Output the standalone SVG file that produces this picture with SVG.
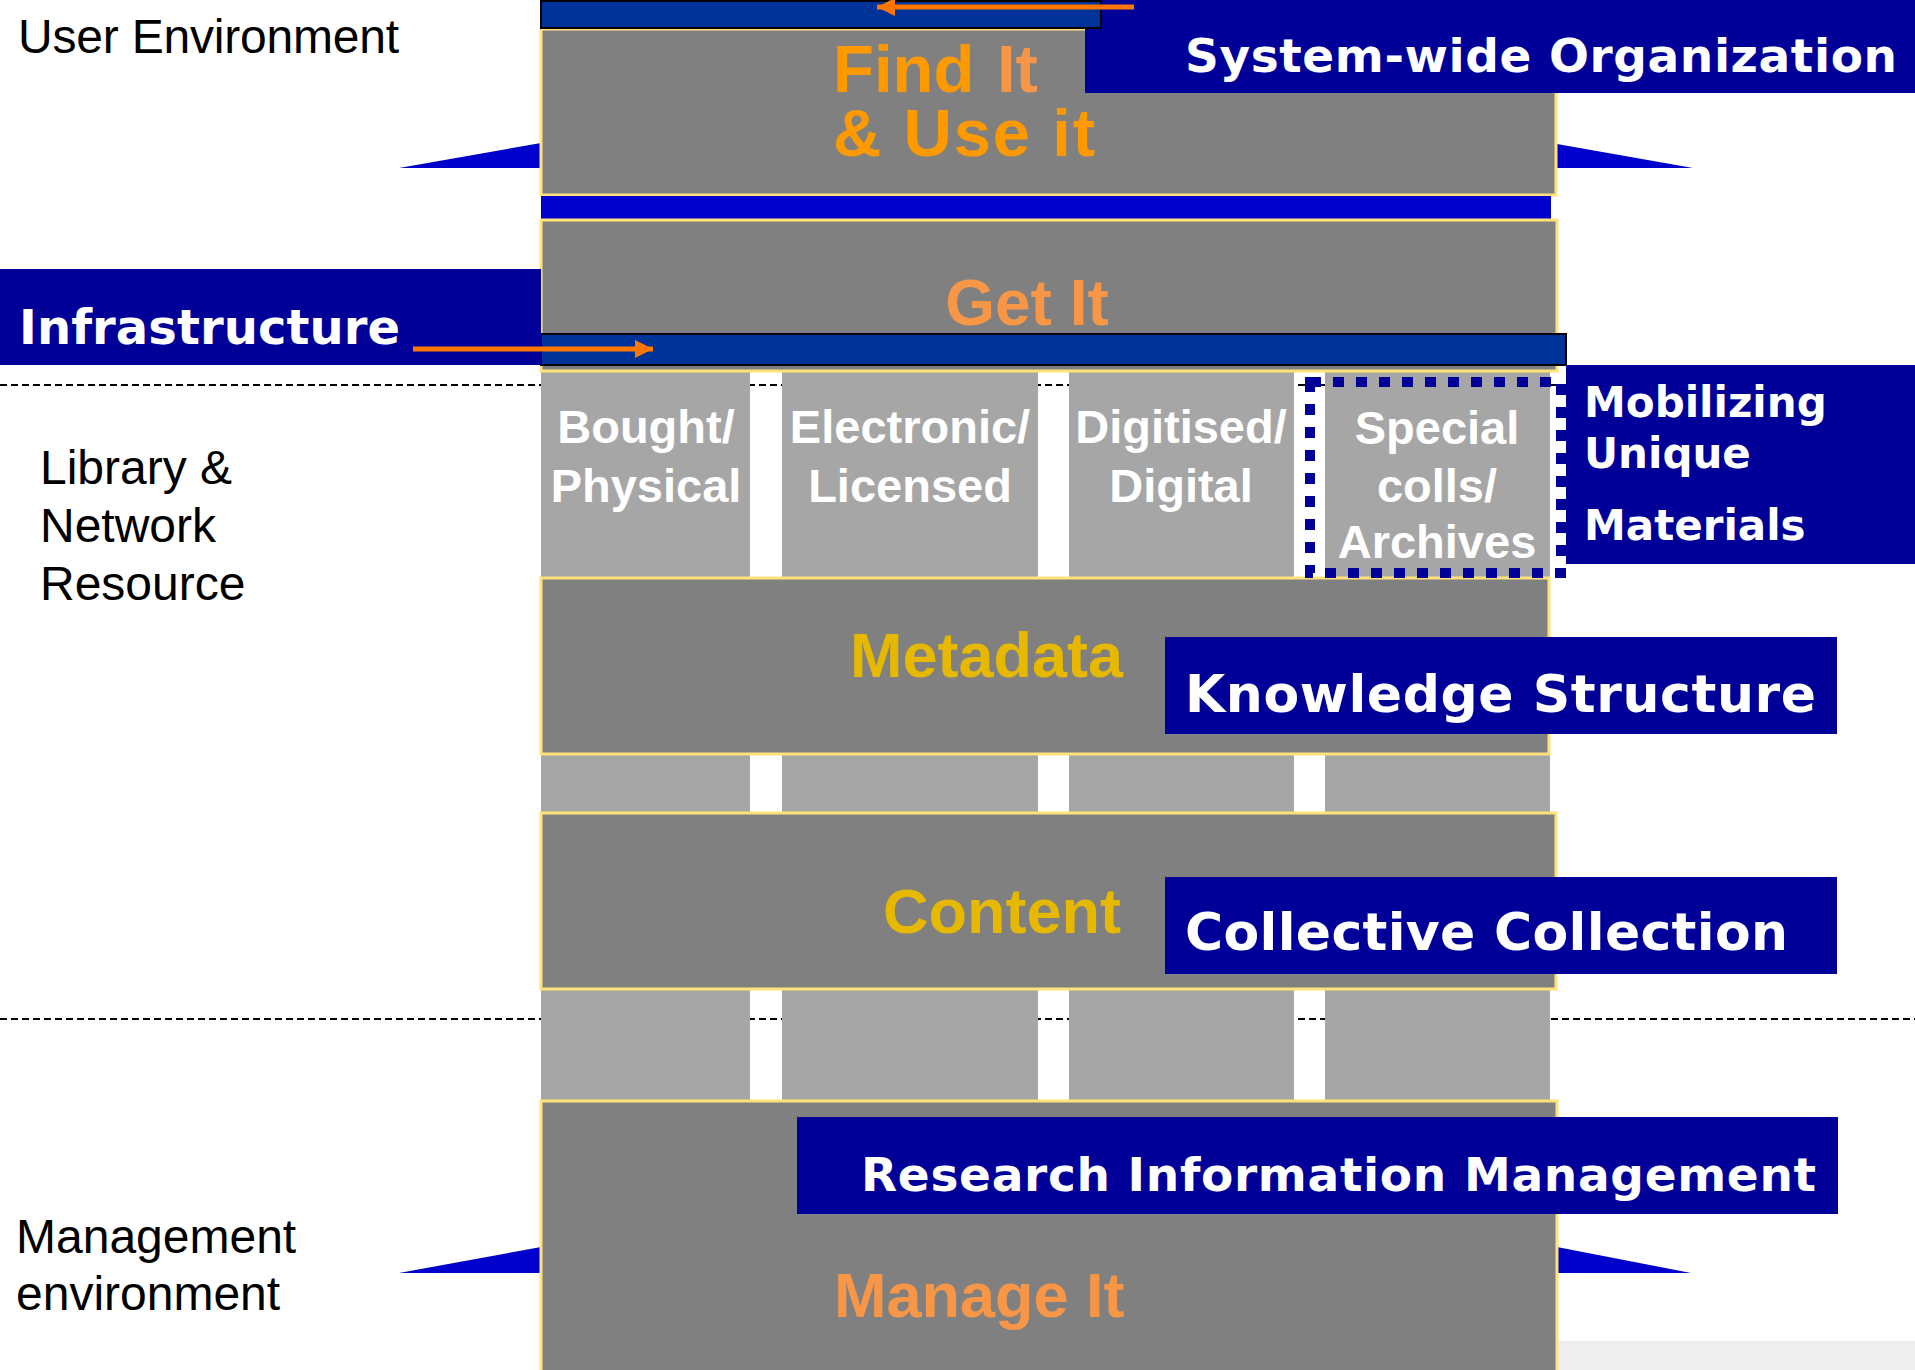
<svg xmlns="http://www.w3.org/2000/svg" width="1915" height="1370" viewBox="0 0 1915 1370">
<style>
.layer{fill:#808080;stroke:#FFE27A;stroke-width:3}
.col{fill:#A6A6A6}
.navy{fill:#000099}
.wedge{fill:#0000CC}
.lbl{font-family:"Liberation Sans",Arial,sans-serif;font-size:48px;fill:#000}
.big{font-family:"Liberation Sans",Arial,sans-serif;font-weight:bold}
.colt{font-family:"Liberation Sans",Arial,sans-serif;font-weight:bold;font-size:47px;fill:#fff;text-anchor:middle}
.wide{font-family:"DejaVu Sans",Verdana,sans-serif;font-weight:bold;fill:#fff}
.dash{stroke:#000;stroke-width:2;stroke-dasharray:7 4;fill:none}
.arr{stroke:#FF7700;stroke-width:5;fill:none}
</style>
<defs>
<marker id="ah" markerUnits="userSpaceOnUse" markerWidth="20" markerHeight="18" refX="18" refY="9" orient="auto">
<path d="M0,0 L18,9 L0,18 Z" fill="#FF7700"/>
</marker>
</defs>
<rect width="1915" height="1370" fill="#fff"/>
<g id="guides">
<line class="dash" x1="0" y1="385" x2="1566" y2="385"/>
<line class="dash" x1="0" y1="1019" x2="1915" y2="1019"/>
</g>
<g id="wedges">
<polygon class="wedge" points="399,168 541,143 541,168"/>
<polygon class="wedge" points="1557,144 1693,168 1557,168"/>
<polygon class="wedge" points="399,1273 541,1247 541,1273"/>
<polygon class="wedge" points="1557,1247 1691,1273 1557,1273"/>
</g>
<g id="columns">
<rect class="col" x="541" y="372" width="209" height="729"/>
<rect class="col" x="782" y="372" width="256" height="729"/>
<rect class="col" x="1069" y="372" width="225" height="729"/>
<rect class="col" x="1325" y="372" width="225" height="729"/>
</g>
<rect x="1557" y="1341" width="358" height="29" fill="#EEEEEE"/>
<g id="find-it">
<rect class="layer" x="541" y="29" width="1015" height="166"/>
<text class="big" font-size="67" fill="#FF9900" x="833" y="92">Find</text>
<text class="big" font-size="67" fill="#F79646" x="997" y="92">It</text>
<text class="big" font-size="67" fill="#FF9900" x="833" y="156" textLength="262">&amp; Use it</text>
</g>
<rect x="541" y="196" width="1010" height="24" fill="#0000CC"/>
<g id="get-it">
<rect class="layer" x="541" y="220" width="1016" height="151"/>
<text class="big" font-size="64" fill="#F79646" x="1027" y="325" text-anchor="middle">Get It</text>
</g>
<rect x="541" y="334" width="1025" height="31" fill="#003399" stroke="#000" stroke-width="2"/>
<g id="metadata">
<rect class="layer" x="541" y="578" width="1008" height="176"/>
<text class="big" font-size="63" fill="#E6B800" x="850" y="677">Metadata</text>
</g>
<g id="content">
<rect class="layer" x="541" y="813" width="1015" height="176"/>
<text class="big" font-size="63" fill="#E6B800" x="883" y="933">Content</text>
</g>
<g id="manage-it">
<rect class="layer" x="541" y="1101" width="1016" height="280"/>
<text class="big" font-size="63" fill="#F79646" x="834" y="1317">Manage It</text>
</g>
<g id="column-labels">
<text class="colt" x="646" y="443">Bought/</text>
<text class="colt" x="646" y="502">Physical</text>
<text class="colt" x="910" y="443">Electronic/</text>
<text class="colt" x="910" y="502">Licensed</text>
<text class="colt" x="1181" y="443">Digitised/</text>
<text class="colt" x="1181" y="502">Digital</text>
<text class="colt" x="1437" y="444">Special</text>
<text class="colt" x="1437" y="502">colls/</text>
<text class="colt" x="1437" y="558">Archives</text>
</g>
<g id="system-wide">
<rect class="navy" x="1085" y="0" width="830" height="93"/>
<text class="wide" font-size="47" x="1185" y="72" textLength="712">System-wide Organization</text>
</g>
<rect x="541" y="1" width="560" height="27" fill="#003399" stroke="#000" stroke-width="2"/>
<g id="infrastructure">
<rect class="navy" x="0" y="269" width="541" height="96"/>
<text class="wide" font-size="48" x="19" y="344" textLength="381">Infrastructure</text>
</g>
<g id="mobilizing">
<rect class="navy" x="1566" y="365" width="349" height="199"/>
<text class="wide" font-size="42" x="1584" y="417">Mobilizing</text>
<text class="wide" font-size="42" x="1584" y="468">Unique</text>
<text class="wide" font-size="42" x="1584" y="540">Materials</text>
</g>
<g id="knowledge">
<rect class="navy" x="1165" y="637" width="672" height="97"/>
<text class="wide" font-size="52" x="1185" y="712" textLength="631">Knowledge Structure</text>
</g>
<g id="collective">
<rect class="navy" x="1165" y="877" width="672" height="97"/>
<text class="wide" font-size="52" x="1185" y="950" textLength="603">Collective Collection</text>
</g>
<g id="rim">
<rect class="navy" x="797" y="1117" width="1041" height="97"/>
<text class="wide" font-size="47" x="861" y="1191" textLength="955">Research Information Management</text>
</g>
<g id="special-boundary">
<rect x="1310" y="382" width="251" height="191" fill="none" stroke="#000099" stroke-width="10" stroke-dasharray="11 12"/>
</g>
<g id="side-labels">
<text class="lbl" x="18" y="53" textLength="381">User Environment</text>
<text class="lbl" x="40" y="484">Library &amp;</text>
<text class="lbl" x="40" y="542">Network</text>
<text class="lbl" x="40" y="600">Resource</text>
<text class="lbl" x="16" y="1253">Management</text>
<text class="lbl" x="16" y="1310">environment</text>
</g>
<g id="connectors">
<line class="arr" x1="1134" y1="7" x2="877" y2="7" marker-end="url(#ah)"/>
<line class="arr" x1="413" y1="349" x2="653" y2="349" marker-end="url(#ah)"/>
</g>
</svg>
